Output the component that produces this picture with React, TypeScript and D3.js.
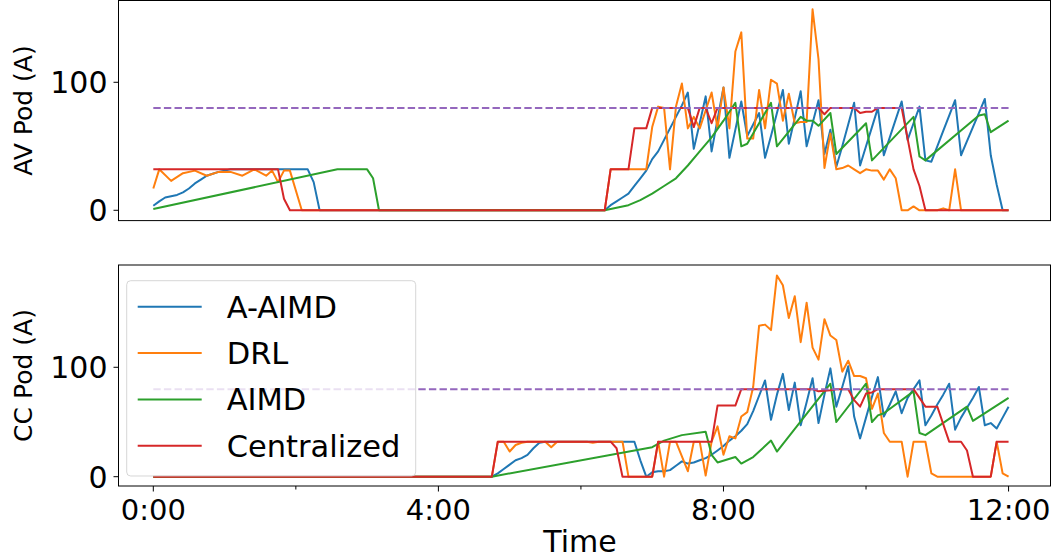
import React from "react";
import * as d3 from "d3";

type Pt = [number, number]; // [minutes since 0:00, current in A]

const seriesNames = ["A-AIMD", "DRL", "AIMD", "Centralized"];
const seriesColors = ["#1f77b4", "#ff7f0e", "#2ca02c", "#d62728"];
const limitValue = 80;
const limitColor = "#9467bd";
const xTicks = [0, 120, 240, 360, 480, 600, 720];
const xTickLabels = ["0:00", "", "4:00", "", "8:00", "", "12:00"];
const yTicks = [0, 100];

// AV pod
const avAAIMD: Pt[] = [
  [0, 3.5], [5, 7], [10, 10], [15, 11], [20, 12], [25, 14], [30, 17], [35, 21], [40, 24], [45, 27], [50, 28.5], [55, 30], [60, 31], [65, 32],
  [130, 32], [135, 22], [140, 0], [380, 0], [385, 4], [390, 7], [395, 10], [400, 13], [405, 19], [410, 25], [415, 31], [420, 40], [425, 46],
  [430, 55], [435, 64], [440, 73], [445, 82], [450, 92], [455, 48], [460, 68], [465, 89], [470, 46], [475, 71], [480, 96], [485, 41],
  [490, 63], [495, 85], [500, 58], [505, 67], [510, 76], [515, 41], [520, 58], [525, 76], [530, 94], [535, 52], [540, 72], [545, 93],
  [550, 50], [555, 68], [560, 86], [565, 44], [570, 63], [575, 34], [580, 50], [585, 67], [590, 84], [595, 35], [600, 50], [605, 65],
  [610, 80], [615, 43], [620, 57], [625, 71], [630, 85], [635, 55], [640, 68], [645, 81], [650, 39], [655, 38], [660, 50], [665, 62],
  [670, 74], [675, 86], [680, 43], [685, 54], [690, 65], [695, 76], [700, 87], [705, 43], [710, 20], [715, 0], [720, 0],
];
const avDRL: Pt[] = [
  [0, 17], [5, 32], [15, 23], [25, 29], [35, 31], [45, 27], [55, 30], [65, 30], [75, 27], [85, 32], [95, 27], [100, 31], [105, 22],
  [110, 31], [115, 31], [125, 0], [380, 0], [385, 32], [415, 32], [420, 65], [425, 81], [430, 80], [435, 32], [440, 81], [445, 99],
  [450, 64], [455, 73], [460, 64], [465, 78], [470, 92], [475, 64], [480, 96], [485, 64], [490, 124], [495, 139], [500, 56], [505, 56],
  [510, 94], [515, 64], [520, 102], [525, 99], [530, 70], [535, 91], [540, 68], [545, 69], [550, 69], [555, 157], [560, 118], [565, 33],
  [570, 60], [575, 32], [580, 33], [585, 35], [590, 32], [595, 29], [600, 32], [605, 31], [610, 31], [615, 24], [620, 32], [625, 25],
  [630, 0], [635, 0], [640, 3], [645, 0], [660, 0], [665, 1.5], [670, 0], [675, 32], [680, 0], [720, 0],
];
const avAIMD: Pt[] = [
  [0, 1], [155, 32], [180, 32], [185, 25], [190, 0], [380, 0], [390, 2], [400, 4], [410, 8], [420, 13], [430, 19], [440, 25], [450, 35],
  [460, 46], [470, 57], [480, 70], [490, 84], [495, 50], [500, 52], [520, 84], [525, 50], [545, 73], [550, 70], [555, 70], [560, 66],
  [570, 76], [575, 44], [600, 68], [605, 39], [640, 73], [645, 42], [650, 39], [695, 74], [700, 75], [705, 61], [720, 70],
];
const avCentralized: Pt[] = [
  [0, 32], [105, 32], [110, 9], [115, 0], [380, 0], [385, 32], [400, 32], [405, 64], [415, 64], [420, 80], [450, 80], [455, 65], [460, 80],
  [465, 80], [470, 68], [475, 80], [560, 80], [565, 75], [570, 80], [590, 80], [595, 76], [600, 77], [605, 77], [610, 80], [630, 80],
  [635, 56], [640, 32], [645, 19], [650, 0], [720, 0],
];

// CC pod
const ccAAIMD: Pt[] = [
  [0, 0], [285, 0], [290, 3], [295, 7], [300, 11], [305, 15], [310, 17], [315, 20], [320, 26], [325, 31], [330, 32], [405, 32], [410, 15],
  [415, 0], [420, 4], [425, 5], [430, 5], [435, 6], [440, 10], [445, 14], [450, 12], [455, 13], [460, 15], [465, 17], [470, 20], [475, 24],
  [480, 28], [485, 33], [490, 37], [495, 42], [500, 48], [505, 60], [510, 74], [515, 88], [520, 52], [525, 75], [530, 94], [535, 61],
  [540, 86], [545, 47], [550, 68], [555, 90], [560, 49], [565, 75], [570, 99], [575, 64], [580, 82], [585, 101], [590, 55], [595, 35],
  [600, 54], [605, 73], [610, 91], [615, 55], [620, 66], [625, 78], [630, 58], [635, 72], [640, 80], [645, 88], [650, 47], [655, 56],
  [660, 66], [665, 75], [670, 85], [675, 43], [680, 54], [685, 63], [690, 72], [695, 82], [700, 47], [705, 49], [710, 44], [715, 54], [720, 64],
];
const ccDRL: Pt[] = [
  [0, 0], [285, 0], [290, 32], [295, 32], [300, 23], [305, 29], [310, 31], [315, 32], [330, 32], [335, 27], [340, 32], [365, 32], [370, 31],
  [375, 32], [395, 32], [400, 0], [420, 0], [425, 32], [430, 0], [435, 32], [440, 32], [450, 5], [455, 32], [460, 32], [465, 1], [470, 32],
  [475, 46], [480, 20], [485, 37], [490, 35], [495, 55], [500, 59], [505, 82], [510, 138], [515, 139], [520, 134], [525, 184], [530, 175],
  [535, 145], [540, 165], [545, 123], [550, 159], [555, 118], [560, 107], [565, 144], [570, 129], [575, 125], [580, 96], [585, 106],
  [590, 92], [595, 92], [600, 90], [605, 62], [610, 76], [615, 40], [620, 32], [630, 32], [635, 0], [640, 32], [650, 32], [655, 3],
  [660, 0], [705, 0], [710, 32], [715, 3], [720, 0],
];
const ccAIMD: Pt[] = [
  [0, 0], [285, 0], [420, 27], [430, 33], [445, 38], [465, 41], [470, 20], [475, 13], [490, 18], [495, 12], [505, 18], [520, 33], [525, 23],
  [570, 85], [575, 50], [600, 85], [605, 50], [610, 56], [615, 58], [640, 78], [645, 40], [650, 38], [685, 64], [690, 51], [720, 72],
];
const ccCentralized: Pt[] = [
  [0, 0], [285, 0], [290, 32], [385, 32], [390, 26], [395, 0], [420, 0], [425, 32], [470, 32], [475, 65], [490, 65], [495, 80], [555, 80],
  [560, 78], [570, 79], [575, 80], [585, 80], [590, 70], [595, 64], [600, 76], [605, 77], [610, 80], [640, 80], [650, 64], [660, 64],
  [670, 32], [680, 32], [685, 24], [690, 0], [705, 0], [710, 32], [720, 32],
];

const avSeries = [avAAIMD, avDRL, avAIMD, avCentralized];
const ccSeries = [ccAAIMD, ccDRL, ccAIMD, ccCentralized];

const W = 1055;
const H = 559;
const FONT = "DejaVu Sans, sans-serif";
const axLeft = 118.5;
const axRight = 1050.5;

const x = d3.scaleLinear().domain([-29.3, 755.3]).range([axLeft, axRight]);

type PanelProps = {
  series: Pt[][];
  top: number;
  bottom: number;
  yDomain: [number, number];
  label: string;
  showX: boolean;
  legend?: boolean;
};

const Panel = ({ series, top, bottom, yDomain, label, showX, legend }: PanelProps) => {
  const y = d3.scaleLinear().domain(yDomain).range([bottom, top]);
  const line = d3.line<Pt>().x(d => x(d[0])).y(d => y(d[1]));
  const clipId = "clip" + Math.round(top);
  const mid = (top + bottom) / 2;
  return (
    <g>
      <defs>
        <clipPath id={clipId}>
          <rect x={axLeft} y={top} width={axRight - axLeft} height={bottom - top} />
        </clipPath>
      </defs>
      <g clipPath={`url(#${clipId})`}>
        {series.map((s, i) => (
          <path key={i} d={line(s) || ""} fill="none" stroke={seriesColors[i]} strokeWidth={2} strokeLinejoin="round" />
        ))}
        <line x1={x(0)} x2={x(720)} y1={y(limitValue)} y2={y(limitValue)} stroke={limitColor} strokeWidth={2} strokeDasharray="7.4,3.2" />
      </g>
      {yTicks.map(t => (
        <g key={t}>
          <line x1={axLeft - 5} x2={axLeft} y1={y(t)} y2={y(t)} stroke="#000" strokeWidth={1} />
          <text x={axLeft - 11} y={y(t)} dy="0.36em" textAnchor="end" fontSize={30} fontFamily={FONT}>{t}</text>
        </g>
      ))}
      {showX && xTicks.map((t, i) => (
        <g key={t}>
          <line x1={x(t)} x2={x(t)} y1={bottom} y2={bottom + (xTickLabels[i] ? 5.5 : 3.5)} stroke="#000" strokeWidth={1} />
          {xTickLabels[i] && (
            <text x={x(t)} y={519.5} textAnchor="middle" fontSize={29} fontFamily={FONT}>{xTickLabels[i]}</text>
          )}
        </g>
      ))}
      <text transform={`translate(32,${mid}) rotate(-90)`} textAnchor="middle" fontSize={25} fontFamily={FONT}>{label}</text>
      {legend && (
        <g>
          <rect x={126.7} y={280.7} width={289} height={195.3} rx={4} fill="#fff" fillOpacity={0.8} stroke="#ccc" strokeOpacity={0.8} />
          {seriesNames.map((n, i) => {
            const ly = 306.7 + i * 46.35;
            return (
              <g key={n}>
                <line x1={137.7} x2={201.7} y1={ly} y2={ly} stroke={seriesColors[i]} strokeWidth={2} />
                <text x={226.7} y={ly} dy="0.355em" fontSize={30.5} fontFamily={FONT}>{n}</text>
              </g>
            );
          })}
        </g>
      )}
      <rect x={axLeft} y={top} width={axRight - axLeft} height={bottom - top} fill="none" stroke="#000" strokeWidth={1} />
    </g>
  );
};

const App = () => {
  return (
    <svg width={W} height={H} style={{ position: "absolute", left: 0, top: 0, background: "#fff" }}>
      <rect width={W} height={H} fill="#fff" />
      <Panel series={avSeries} top={0.5} bottom={220.6} yDomain={[-8.05, 163.9]} label="AV Pod (A)" showX={false} />
      <Panel series={ccSeries} top={265} bottom={486} yDomain={[-8.5, 193.5]} label="CC Pod (A)" showX={true} legend />
      <text x={580} y={552} textAnchor="middle" fontSize={30} fontFamily={FONT}>Time</text>
    </svg>
  );
};

export default App;
